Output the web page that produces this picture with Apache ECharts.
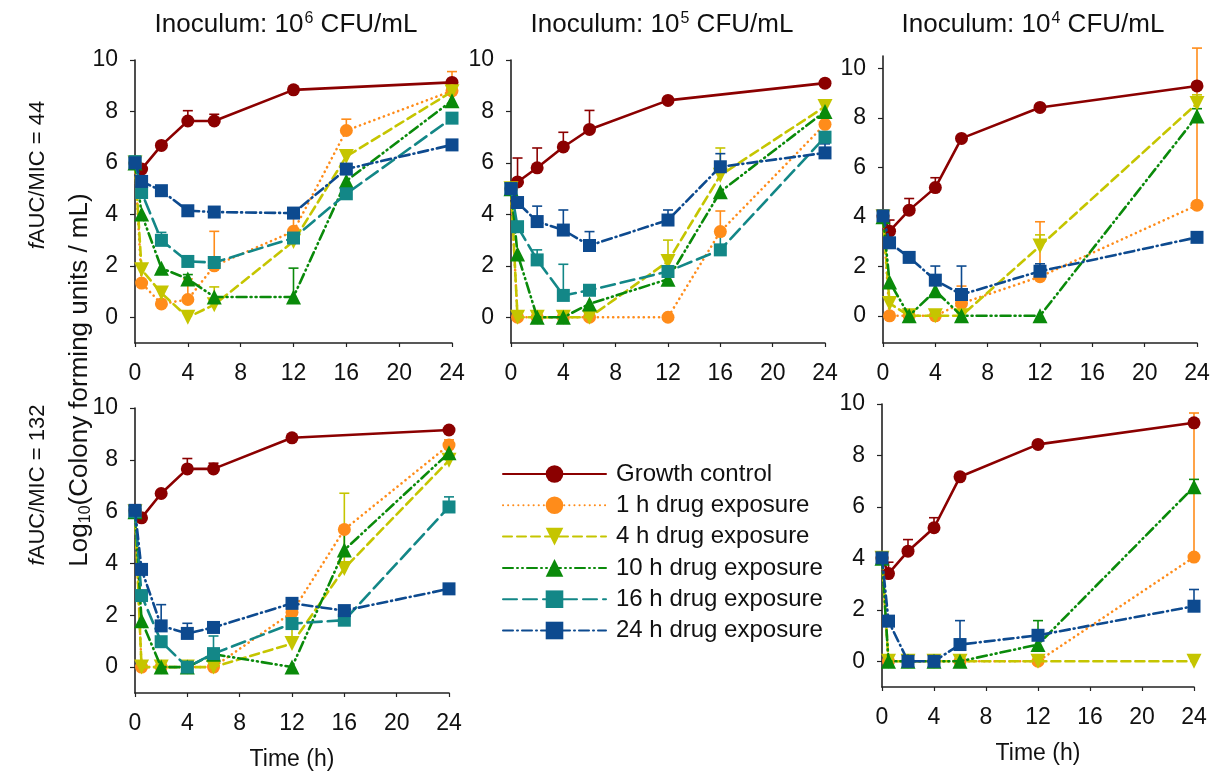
<!DOCTYPE html>
<html>
<head>
<meta charset="utf-8">
<script src="https://cdn.jsdelivr.net/npm/echarts@6/dist/echarts.min.js"></script>
<style>
  html, body { margin: 0; padding: 0; background: #fff; }
  #chart { width: 1218px; height: 774px; }
</style>
</head>
<body>
<div id="chart"></div>
<script>
// sampling times (h) and axis ticks
const times  = [0, 0.5, 2, 4, 6, 12, 16, 24];
const xTicks = [0, 4, 8, 12, 16, 20, 24];
const yTicks = [0, 2, 4, 6, 8, 10];

const seriesNames = ["Growth control", "1 h drug exposure", "4 h drug exposure",
                     "10 h drug exposure", "16 h drug exposure", "24 h drug exposure"];

// A: 10^6 CFU/mL, fAUC/MIC = 44
const growthA = [6.0, 5.76, 6.68, 7.63, 7.63, 8.84, null, 9.13];
const h1A     = [6.0, 1.33, 0.52, 0.69, 2.0, 3.34, 7.26, 8.8];
const h4A     = [6.0, 1.85, 0.94, 0.0, 0.49, 2.95, 6.25, 8.77];
const h10A    = [6.0, 4.01, 1.91, 1.49, 0.79, 0.79, 5.3, 8.42];
const h16A    = [6.05, 4.85, 2.99, 2.17, 2.13, 3.08, 4.8, 7.74];
const h24A    = [6.0, 5.28, 4.92, 4.14, 4.09, 4.05, 5.76, 6.7];
const growthErrA = [0, 0, 0, 0.4, 0.26, 0, 0, 0];
const h1ErrA     = [0, 0, 0, 0.8, 1.34, 0.58, 0.44, 0.75];
const h4ErrA     = [0, 0, 0.24, 0, 0.69, 0, 0, 0];
const h10ErrA    = [0, 0, 0, 0.17, 0, 1.12, 0, 0];
const h16ErrA    = [0, 0, 0.31, 0, 0, 0, 0, 0];
const h24ErrA    = [0, 0, 0, 0, 0, 0, 0, 0];

// B: 10^5 CFU/mL, fAUC/MIC = 44
const growthB = [5.0, 5.26, 5.81, 6.62, 7.30, 8.43, null, 9.1];
const h1B     = [5.0, 0, 0, 0, 0, 0, 3.33, 7.5];
const h4B     = [5.0, 0, 0, 0, 0, 2.17, 5.52, 8.19];
const h10B    = [5.0, 2.46, 0, 0, 0.52, 1.48, 4.88, 8.0];
const h16B    = [5.0, 3.52, 2.23, 0.85, 1.05, 1.78, 2.62, 7.0];
const h24B    = [5.0, 4.46, 3.72, 3.39, 2.79, 3.78, 5.85, 6.39];
const growthErrB = [0, 0.93, 0.77, 0.57, 0.74, 0, 0, 0];
const h1ErrB     = [0, 0, 0, 0, 0, 0, 0.8, 0];
const h4ErrB     = [0, 0, 0, 0, 0, 0.83, 1.06, 0];
const h10ErrB    = [0, 0, 0, 0, 0, 0, 0, 0];
const h16ErrB    = [0, 0, 0.39, 1.21, 0, 0, 0.58, 0.2];
const h24ErrB    = [0, 0, 0.6, 0.78, 0.54, 0.39, 0.51, 0.35];

// C: 10^4 CFU/mL, fAUC/MIC = 44
const growthC = [4.04, 3.42, 4.27, 5.18, 7.17, 8.42, null, 9.29];
const h1C     = [4.0, 0, 0, 0, 0.5, 1.58, null, 4.47];
const h4C     = [4.0, 0.5, 0, 0, 0, 2.82, null, 8.58];
const h10C    = [4.0, 1.37, 0, 1.01, 0, 0, null, 8.07];
const h16C    = [];
const h24C    = [4.04, 2.95, 2.36, 1.44, 0.86, 1.8, null, 3.17];
const growthErrC = [0, 0.45, 0.47, 0.4, 0, 0, 0, 0];
const h1ErrC     = [0, 0, 0, 0, 0.7, 2.22, 0, 6.35];
const h4ErrC     = [0, 0, 0, 0, 0, 0.45, 0, 0.35];
const h10ErrC    = [0, 0, 0, 0, 0, 0, 0, 0.3];
const h16ErrC    = [];
const h24ErrC    = [0, 0, 0, 0.57, 1.15, 0.3, 0, 0];

// D: 10^6 CFU/mL, fAUC/MIC = 132
const growthD = [6.05, 5.76, 6.70, 7.65, 7.65, 8.85, null, 9.15];
const h1D     = [6.0, 0, 0, 0, 0, 2.11, 5.31, 8.57];
const h4D     = [6.0, 0, 0, 0, 0, 0.91, 3.81, 7.98];
const h10D    = [6.0, 1.79, 0, 0, 0.5, 0, 4.52, 8.27];
const h16D    = [6.0, 2.76, 0.98, 0, 0.52, 1.68, 1.81, 6.18];
const h24D    = [6.05, 3.77, 1.59, 1.3, 1.53, 2.46, 2.18, 3.02];
const growthErrD = [0, 0, 0, 0.4, 0.22, 0, 0, 0];
const h1ErrD     = [0, 0, 0, 0, 0, 0, 0.15, 0.2];
const h4ErrD     = [0, 0, 0, 0, 0, 1.2, 2.9, 0];
const h10ErrD    = [0, 0, 0, 0, 0, 0, 0.8, 0];
const h16ErrD    = [0, 0, 0, 0, 0.68, 0, 0, 0.39];
const h24ErrD    = [0, 0, 0.82, 0.39, 0, 0, 0, 0];

// E: 10^4 CFU/mL, fAUC/MIC = 132
const growthE = [4.02, 3.41, 4.28, 5.19, 7.17, 8.43, null, 9.27];
const h1E     = [4.0, 0, 0, 0, 0, 0, null, 4.05];
const h4E     = [4.0, 0, 0, 0, 0, 0, null, 0];
const h10E    = [4.0, 0, 0, 0, 0, 0.65, null, 6.78];
const h16E    = [];
const h24E    = [4.02, 1.56, 0, 0, 0.65, 1.01, null, 2.14];
const growthErrE = [0, 0.44, 0.45, 0.39, 0.08, 0, 0, 0];
const h1ErrE     = [0, 0, 0, 0, 0, 0, 0, 5.6];
const h4ErrE     = [0, 0, 0, 0, 0, 0, 0, 0];
const h10ErrE    = [0, 0, 0, 0, 0, 0.93, 0, 0.29];
const h16ErrE    = [];
const h24ErrE    = [0, 0, 0, 0, 0.93, 0, 0, 0.65];

// look of each exposure series
const styles = [
  { color: "#8b0000", type: "solid",              symbol: "circle",   rotate: 0 },
  { color: "#ff8c1a", type: [0.1, 5],             symbol: "circle",   rotate: 0 },
  { color: "#c5c500", type: [9, 5],               symbol: "triangle", rotate: 180 },
  { color: "#0a8a0a", type: [10, 4, 1, 4, 1, 4],  symbol: "triangle", rotate: 0 },
  { color: "#138787", type: [14, 6],              symbol: "rect",     rotate: 0 },
  { color: "#0d4a8f", type: [10, 4, 1, 4],        symbol: "rect",     rotate: 0 }
];

const panels = [
  { left: 135, top: 60,  width: 317, height: 283, min: -1,   max: 10,
    vals: [growthA, h1A, h4A, h10A, h16A, h24A],
    errs: [growthErrA, h1ErrA, h4ErrA, h10ErrA, h16ErrA, h24ErrA] },
  { left: 511, top: 60,  width: 314, height: 283, min: -1,   max: 10,
    vals: [growthB, h1B, h4B, h10B, h16B, h24B],
    errs: [growthErrB, h1ErrB, h4ErrB, h10ErrB, h16ErrB, h24ErrB] },
  { left: 883, top: 56,  width: 314, height: 287, min: -1.1, max: 10.5,
    vals: [growthC, h1C, h4C, h10C, h16C, h24C],
    errs: [growthErrC, h1ErrC, h4ErrC, h10ErrC, h16ErrC, h24ErrC] },
  { left: 135, top: 408, width: 314, height: 285, min: -1,   max: 10, xName: "Time (h)",
    vals: [growthD, h1D, h4D, h10D, h16D, h24D],
    errs: [growthErrD, h1ErrD, h4ErrD, h10ErrD, h16ErrD, h24ErrD] },
  { left: 882, top: 404, width: 312, height: 283, min: -1,   max: 10, xName: "Time (h)",
    vals: [growthE, h1E, h4E, h10E, h16E, h24E],
    errs: [growthErrE, h1ErrE, h4ErrE, h10ErrE, h16ErrE, h24ErrE] }
];

const FONT = "'Liberation Sans', Arial, sans-serif";
const axisColor = "#222";

const grids = [], xAxes = [], yAxes = [], series = [];

panels.forEach((p, i) => {
  grids.push({ left: p.left, top: p.top, width: p.width, height: p.height });
  xAxes.push({
    type: "value", gridIndex: i, min: 0, max: 24, interval: 4,
    name: p.xName || "", nameLocation: "middle", nameGap: 55,
    nameTextStyle: { fontSize: 23, color: "#111", fontFamily: FONT },
    axisLine:  { show: true, onZero: false, lineStyle: { color: axisColor, width: 1.6 } },
    axisTick:  { show: true, length: 4, lineStyle: { color: axisColor, width: 1.2 } },
    axisLabel: { fontSize: 23, color: "#111", margin: 19, fontFamily: FONT },
    splitLine: { show: false }
  });
  yAxes.push({
    type: "value", gridIndex: i, min: p.min, max: p.max,
    axisLine:  { show: true, onZero: false, lineStyle: { color: axisColor, width: 1.6 } },
    axisTick:  { show: true, length: 5, customValues: yTicks, lineStyle: { color: axisColor, width: 1.2 } },
    axisLabel: { fontSize: 23, color: "#111", margin: 17, customValues: yTicks, fontFamily: FONT },
    splitLine: { show: false }
  });

  // error bars (upper only)
  p.vals.forEach((vals, s) => {
    const errs = p.errs[s];
    const pts = [];
    times.forEach((t, k) => {
      if (vals[k] != null && errs[k] > 0) pts.push([t, vals[k], vals[k] + errs[k]]);
    });
    if (!pts.length) return;
    const color = styles[s].color;
    series.push({
      type: "custom", name: "err", xAxisIndex: i, yAxisIndex: i, silent: true, clip: false, z: 1,
      encode: { x: 0, y: [1, 2] },
      renderItem: (params, api) => {
        const a = api.coord([api.value(0), api.value(1)]);
        const b = api.coord([api.value(0), api.value(2)]);
        const st = { stroke: color, lineWidth: 1.6 };
        return { type: "group", children: [
          { type: "line", shape: { x1: a[0], y1: a[1], x2: b[0], y2: b[1] }, style: st },
          { type: "line", shape: { x1: b[0] - 5, y1: b[1], x2: b[0] + 5, y2: b[1] }, style: st }
        ] };
      },
      data: pts
    });
  });

  // lines + markers
  p.vals.forEach((vals, s) => {
    if (!vals.length) return;
    const st = styles[s];
    series.push({
      name: seriesNames[s], type: "line", xAxisIndex: i, yAxisIndex: i,
      data: times.map((t, k) => [t, vals[k] == null ? "-" : vals[k]]),
      connectNulls: true, z: 2 + s,
      symbol: st.symbol, symbolRotate: st.rotate,
      symbolSize: st.symbol === "triangle" ? 15 : 13,
      itemStyle: { color: st.color, opacity: 1 },
      lineStyle: { color: st.color, width: 2.6, type: st.type, cap: "round" },
      emphasis: { disabled: true }
    });
  });
});

// rich-text labels (titles, row labels, y title)
function richSet(size) {
  return {
    a:   { fontSize: size, fontFamily: FONT, color: "#111" },
    sup: { fontSize: Math.round(size * 0.63), fontFamily: FONT, color: "#111", padding: [0, 0, 12, 1] },
    sub: { fontSize: Math.round(size * 0.63), fontFamily: FONT, color: "#111", padding: [12, 0, 0, 0] },
    i:   { fontSize: size, fontFamily: FONT, color: "#111", fontStyle: "italic" }
  };
}
function label(x, y, text, size, rot) {
  return { type: "text", x: x, y: y, rotation: rot || 0, silent: true,
           style: { text: text, rich: richSet(size), fontSize: size, fontFamily: FONT,
                    fill: "#111", align: "center", verticalAlign: "middle" } };
}

const chart = echarts.init(document.getElementById("chart"), null, { renderer: "canvas" });
chart.setOption({
  animation: false,
  textStyle: { fontFamily: FONT },
  grid: grids,
  xAxis: xAxes,
  yAxis: yAxes,
  legend: {
    data: seriesNames, orient: "vertical", left: 502, top: 462,
    itemWidth: 103, itemHeight: 22, itemGap: 7.3, padding: 0,
    selectedMode: false,
    textStyle: { fontSize: 24, color: "#111", fontFamily: FONT, padding: [0, 0, 0, 5] }
  },
  graphic: [
    label(286, 25, "{a|Inoculum: 10}{sup|6}{a| CFU/mL}", 26),
    label(662, 25, "{a|Inoculum: 10}{sup|5}{a| CFU/mL}", 26),
    label(1033, 25, "{a|Inoculum: 10}{sup|4}{a| CFU/mL}", 26),
    label(38, 175, "{i|f}{a|AUC/MIC = 44}", 22, Math.PI / 2),
    label(38, 485, "{i|f}{a|AUC/MIC = 132}", 22, Math.PI / 2),
    label(80, 380, "{a|Log}{sub|10}{a|(Colony forming units / mL)}", 26, Math.PI / 2)
  ],
  series: series
});
</script>
</body>
</html>
